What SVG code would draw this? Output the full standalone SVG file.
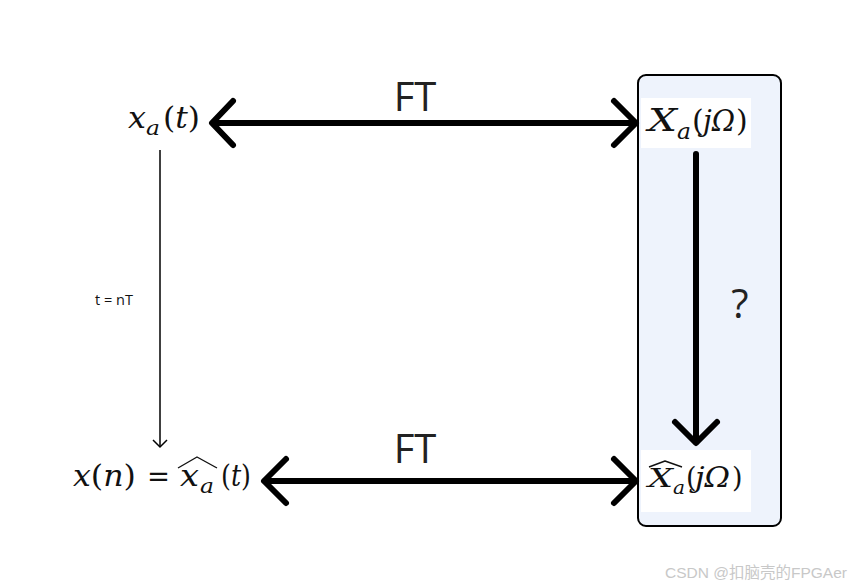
<svg xmlns="http://www.w3.org/2000/svg" width="853" height="587" viewBox="0 0 853 587">
<style>
.m{font-family:"DejaVu Serif","Liberation Serif",serif;font-style:italic;fill:#111}
.u{font-family:"DejaVu Serif","Liberation Serif",serif;fill:#111}
.ft{font-family:"Open Sans","Noto Sans","Liberation Sans",sans-serif;font-size:40px;fill:#222}
.thick{stroke:#000;stroke-width:6;fill:none;stroke-linecap:round;stroke-linejoin:round}
.thin{stroke:#000;stroke-width:1.5;fill:none}
.hat{stroke:#111;stroke-width:1.4;fill:none;stroke-linejoin:round}
</style>
<rect width="853" height="587" fill="#fff"/>
<g id="box">
<rect x="638" y="75" width="143" height="451" rx="8" fill="#eef3fc" stroke="#000" stroke-width="2"/>
</g>
<g id="connectors">
<line class="thick" x1="214" y1="123" x2="634" y2="123"/>
<polyline class="thick" points="233,101 212,123 233,145"/>
<polyline class="thick" points="614,101 636,123 614,145"/>
<line class="thick" x1="265" y1="481" x2="634" y2="481"/>
<polyline class="thick" points="286,459 264,481 286,503"/>
<polyline class="thick" points="614,459 636,481 614,503"/>
<line class="thick" x1="696" y1="154" x2="696" y2="442"/>
<polyline class="thick" points="675,422 696,443 717,422"/>
<line class="thin" x1="160" y1="150" x2="160" y2="447"/>
<polyline class="thin" points="153,440 160,447 167,440"/>
</g>
<g id="node-xa">
<text class="m" x="128" y="128" font-size="29" textLength="18" lengthAdjust="spacingAndGlyphs">x</text>
<text class="m" x="146" y="135" font-size="21" textLength="14" lengthAdjust="spacingAndGlyphs">a</text>
<text class="u" x="163" y="128" font-size="29" textLength="37" lengthAdjust="spacingAndGlyphs">(<tspan class="m">t</tspan>)</text>
</g>
<g id="node-Xa">
<rect x="641" y="98" width="110" height="50" fill="#fff"/>
<text class="m" x="648" y="131" font-size="32" textLength="29" lengthAdjust="spacingAndGlyphs">X</text>
<text class="m" x="677" y="139" font-size="22" textLength="14" lengthAdjust="spacingAndGlyphs">a</text>
<text class="u" x="692" y="131" font-size="30">(</text>
<text class="m" x="703" y="131" font-size="30" textLength="32" lengthAdjust="spacingAndGlyphs">jΩ</text>
<text class="u" x="736" y="131" font-size="30">)</text>
</g>
<g id="node-xn">
<text class="u" x="73" y="486" font-size="29" textLength="63" lengthAdjust="spacingAndGlyphs"><tspan class="m">x</tspan>(<tspan class="m">n</tspan>)</text>
<text class="u" x="147" y="486" font-size="29" textLength="23" lengthAdjust="spacingAndGlyphs">=</text>
<text class="m" x="180" y="486" font-size="29" textLength="19" lengthAdjust="spacingAndGlyphs">x</text>
<text class="m" x="200" y="493" font-size="21" textLength="14" lengthAdjust="spacingAndGlyphs">a</text>
<text class="u" x="221" y="486" font-size="29" textLength="30" lengthAdjust="spacingAndGlyphs">(<tspan class="m">t</tspan>)</text>
<path class="hat" d="M178,468 L197,457 L217,468"/>
</g>
<g id="node-Xahat">
<rect x="641" y="450" width="110" height="62" fill="#fff"/>
<text class="m" x="648" y="487" font-size="26" textLength="25" lengthAdjust="spacingAndGlyphs">X</text>
<text class="m" x="673" y="494" font-size="18" textLength="12" lengthAdjust="spacingAndGlyphs">a</text>
<text class="u" x="686" y="487" font-size="27">(</text>
<text class="m" x="695" y="487" font-size="27" textLength="35" lengthAdjust="spacingAndGlyphs">jΩ</text>
<text class="u" x="732" y="487" font-size="27">)</text>
<path class="hat" d="M649,467 L665,461 L682,467"/>
</g>
<g id="labels">
<text class="ft" x="415" y="111" text-anchor="middle">FT</text>
<text class="ft" x="415" y="463" text-anchor="middle">FT</text>
<text class="ft" x="740" y="318" text-anchor="middle">?</text>
<text x="95" y="305" font-family="Open Sans,Noto Sans,Liberation Sans,sans-serif" font-size="14.5" fill="#111">t = nT</text>
<text x="665" y="578" font-family="Liberation Sans,Noto Sans CJK SC,sans-serif" font-size="15.5" fill="#c8c8c8">CSDN @扣脑壳的FPGAer</text>
</g>
</svg>
